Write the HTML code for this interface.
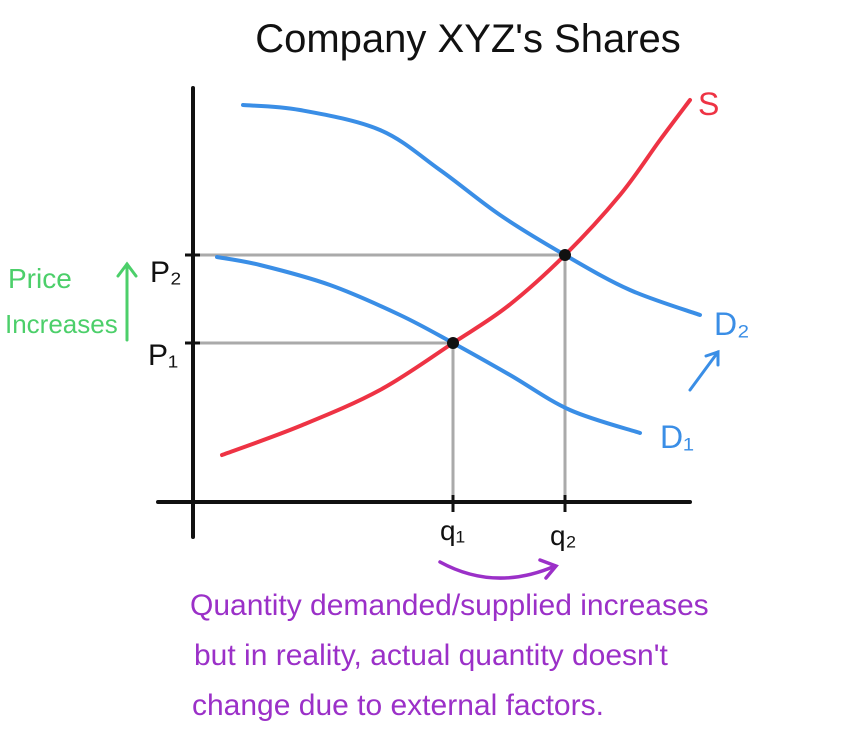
<!DOCTYPE html>
<html><head><meta charset="utf-8">
<style>
html,body{margin:0;padding:0;background:#fff;}
svg{display:block;font-family:"Liberation Sans",sans-serif;}
</style></head>
<body>
<svg id="chart" width="843" height="744" viewBox="0 0 843 744">
  <text x="468" y="52" text-anchor="middle" font-size="40" fill="#111">Company XYZ's Shares</text>
  <line x1="193" y1="88" x2="193" y2="537" stroke="#111" stroke-width="4" stroke-linecap="round"/>
  <line x1="158" y1="502" x2="690" y2="502" stroke="#111" stroke-width="4" stroke-linecap="round"/>
  <g id="guides"></g>
  <g id="curves"></g>
  <g id="points"></g>
  <text x="150" y="282" font-size="30" fill="#111">P₂</text>
  <text x="148" y="365" font-size="30" fill="#111">P₁</text>
  <text x="440" y="540" font-size="28" fill="#111">q₁</text>
  <text x="550" y="545" font-size="28" fill="#111">q₂</text>
  <text x="698" y="115" font-size="32" fill="#ee3344">S</text>
  <text x="660" y="448" font-size="32" fill="#3a8ee6">D₁</text>
  <text x="714" y="335" font-size="32" fill="#3a8ee6">D₂</text>
  <g stroke="#3a8ee6" stroke-width="3" fill="none" stroke-linecap="round">
    <line x1="690" y1="390" x2="718" y2="352"/>
    <polyline points="706,356 718,352 718,365"/>
  </g>
  <text x="8" y="288" font-size="28" fill="#4ccf6a">Price</text>
  <text x="5" y="333" font-size="26" fill="#4ccf6a">Increases</text>
  <g stroke="#4ccf6a" stroke-width="3" fill="none" stroke-linecap="round">
    <line x1="127" y1="340" x2="127" y2="264"/>
    <polyline points="118,276 127,264 136,276"/>
  </g>
  <g stroke="#9b30c8" stroke-width="3.5" fill="none" stroke-linecap="round">
    <path d="M440,562 Q495,592 555,566"/>
    <polyline points="540,560 556,566 546,578"/>
  </g>
  <g font-size="30" fill="#9b30c8">
    <text x="190" y="615">Quantity demanded/supplied increases</text>
    <text x="194" y="665">but in reality, actual quantity doesn't</text>
    <text x="192" y="715">change due to external factors.</text>
  </g>
</svg>
<script>
// quantity values (0-100) and price values (0-100)
const supplyQ = [5.8, 21.4, 37.4, 52, 63, 74.4, 85.4, 93.4, 99.4];
const supplyP = [11.75, 19, 28, 39.75, 49, 61.75, 76.75, 90.5, 100.5];
const demand1Q = [4.8, 13.4, 27.4, 41.4, 52, 63.4, 75.4, 89.4];
const demand1P = [61.25, 59.25, 54.25, 46.75, 39.75, 31.75, 23, 17.25];
const demand2Q = [10, 21.4, 37.4, 49.4, 61.4, 74.4, 87.4, 101.4];
const demand2P = [99.25, 98, 93, 83, 71.75, 61.75, 53, 46.75];
const eqQ = [52, 74.4];
const eqP = [39.75, 61.75];

const NS = "http://www.w3.org/2000/svg";
function xS(q){ return 193 + q * 5; }
function yS(p){ return 502 - p * 4; }

function smoothPath(qs, ps){
  const pts = qs.map((q,i)=>[xS(q), yS(ps[i])]);
  let d = "M" + pts[0][0] + "," + pts[0][1];
  for (let i=0;i<pts.length-1;i++){
    const p0=pts[Math.max(0,i-1)], p1=pts[i], p2=pts[i+1], p3=pts[Math.min(pts.length-1,i+2)];
    const c1=[p1[0]+(p2[0]-p0[0])/6, p1[1]+(p2[1]-p0[1])/6];
    const c2=[p2[0]-(p3[0]-p1[0])/6, p2[1]-(p3[1]-p1[1])/6];
    d += " C"+c1[0]+","+c1[1]+" "+c2[0]+","+c2[1]+" "+p2[0]+","+p2[1];
  }
  return d;
}

const guides = document.getElementById("guides");
for (let i=0;i<eqQ.length;i++){
  const h = document.createElementNS(NS,"line");
  h.setAttribute("x1",193); h.setAttribute("y1",yS(eqP[i]));
  h.setAttribute("x2",xS(eqQ[i])); h.setAttribute("y2",yS(eqP[i]));
  h.setAttribute("stroke","#aaa"); h.setAttribute("stroke-width","3");
  
  
  guides.appendChild(h);
  const v = document.createElementNS(NS,"line");
  v.setAttribute("x1",xS(eqQ[i])); v.setAttribute("y1",yS(eqP[i]));
  v.setAttribute("x2",xS(eqQ[i])); v.setAttribute("y2",502);
  v.setAttribute("stroke","#aaa"); v.setAttribute("stroke-width","3");
  
  
  guides.appendChild(v);
  const t1 = document.createElementNS(NS,"line");
  t1.setAttribute("x1",185); t1.setAttribute("y1",yS(eqP[i]));
  t1.setAttribute("x2",200); t1.setAttribute("y2",yS(eqP[i]));
  t1.setAttribute("stroke","#111"); t1.setAttribute("stroke-width","3");
  
  
  guides.appendChild(t1);
  const t2 = document.createElementNS(NS,"line");
  t2.setAttribute("x1",xS(eqQ[i])); t2.setAttribute("y1",495);
  t2.setAttribute("x2",xS(eqQ[i])); t2.setAttribute("y2",512);
  t2.setAttribute("stroke","#111"); t2.setAttribute("stroke-width","3");
  
  
  guides.appendChild(t2);
}

const curves = document.getElementById("curves");
function addCurve(qs, ps, color, name){
  const p = document.createElementNS(NS,"path");
  p.setAttribute("d", smoothPath(qs, ps));
  p.setAttribute("fill","none"); p.setAttribute("stroke",color);
  p.setAttribute("stroke-width","4"); p.setAttribute("stroke-linecap","round");
  
  
  curves.appendChild(p);
}
addCurve(demand1Q, demand1P, "#3a8ee6", "demand-curve-d1");
addCurve(demand2Q, demand2P, "#3a8ee6", "demand-curve-d2");
addCurve(supplyQ, supplyP, "#ee3344", "supply-curve");

const points = document.getElementById("points");
for (let i=0;i<eqQ.length;i++){
  const c = document.createElementNS(NS,"circle");
  c.setAttribute("cx",xS(eqQ[i])); c.setAttribute("cy",yS(eqP[i]));
  c.setAttribute("r","6"); c.setAttribute("fill","#111");
  
  
  points.appendChild(c);
}
</script>
</body></html>
